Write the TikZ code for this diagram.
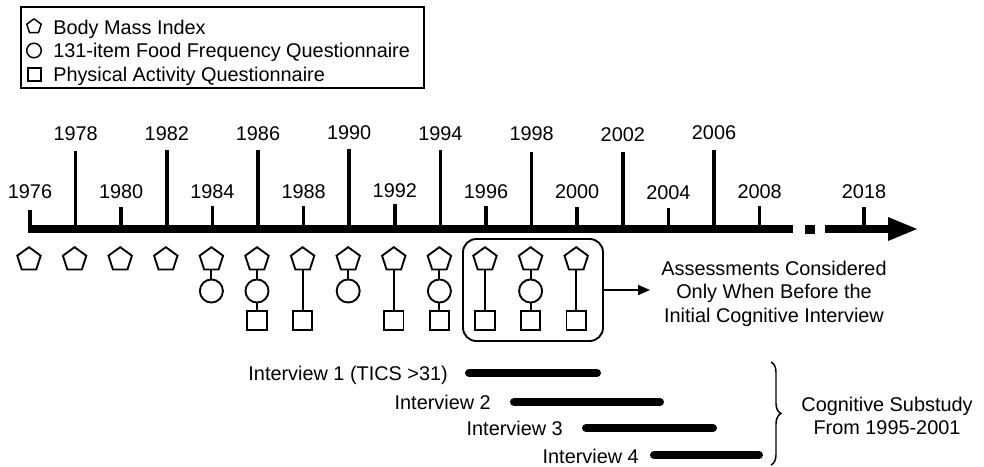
\documentclass[tikz,border=0pt]{standalone}
\usepackage{fontspec}
\setmainfont{Liberation Sans}
\usetikzlibrary{shapes.geometric,decorations.pathreplacing,arrows.meta}
\begin{document}
\begin{tikzpicture}[x=0.75pt,y=-0.75pt,
  txt/.style={font=\fontsize{14.9}{17.6}\selectfont, inner sep=0pt},
  pent/.style={draw, line width=1.4pt, regular polygon, regular polygon sides=5, inner sep=0pt, minimum size=18.5pt},
  circ/.style={draw, line width=1.4pt, circle, inner sep=0pt, minimum size=17.3pt},
  sq/.style={draw, line width=1.4pt, rectangle, inner sep=0pt, minimum size=14.6pt},
  lpent/.style={draw, line width=1.1pt, regular polygon, regular polygon sides=5, inner sep=0pt, minimum size=11.4pt},
  lcirc/.style={draw, line width=1.1pt, circle, inner sep=0pt, minimum size=10.9pt},
  lsq/.style={draw, line width=1.1pt, rectangle, inner sep=0pt, minimum size=10pt},
  link/.style={line width=1.4pt},
  tickline/.style={line width=2.6pt},
  axisline/.style={line width=6.5pt},
  barline/.style={line width=6pt, line cap=round},
]
\useasboundingbox (0,0) rectangle (984,467);

% legend
\node[draw, line width=1.5pt, minimum width=302.25pt, minimum height=60.75pt, inner sep=0pt] (legend) at (222.5,47.5) {};
\node[lpent] (lp) at (34,26.5) {};
\node[lcirc] (lc) at (34,50.5) {};
\node[lsq] (ls) at (34.5,74.5) {};
\node[txt, anchor=base west] (lt1) at (53,35) {Body Mass Index};
\node[txt, anchor=base west] (lt2) at (53,58) {131-item Food Frequency Questionnaire};
\node[txt, anchor=base west] (lt3) at (53,81.5) {Physical Activity Questionnaire};

% axis
\coordinate (a0) at (28,229);
\coordinate (a1) at (793,229);
\coordinate (a2) at (825,229);
\coordinate (a3) at (890,229);
\draw[axisline] (a0) -- (a1);
\fill (805,224.5) rectangle (815,233.5);
\draw[axisline] (a2) -- (a3);
\fill (888,217) -- (917,229) -- (888,241) -- cycle;

% ticks and years
\foreach \xx/\yr/\tp/\lb in {30/1976/210/198, 75.6/1978/151/140, 121.2/1980/207/198, 166.8/1982/150/140,
  212.4/1984/206/198, 258/1986/150/140, 303.6/1988/206/198, 349.2/1990/149/139, 394.8/1992/204/197,
  440.4/1994/150/140, 486/1996/206/198, 531.6/1998/152/140, 577.2/2000/207/198, 622.8/2002/152/141,
  668.4/2004/208/199, 714/2006/150/139, 759.6/2008/206/198, 864/2018/207/198}{
  \coordinate (t\yr) at (\xx,229);
  \coordinate (u\yr) at (\xx,\tp);
  \draw[tickline] (t\yr) -- (u\yr);
  \node[txt, anchor=base] (y\yr) at (\xx,\lb) {\yr};
}

% pentagons (Body Mass Index)
\foreach \xx/\yr in {29/1976, 74.6/1978, 120.2/1980, 165.8/1982, 211.4/1984, 257/1986, 302.6/1988,
  348.2/1990, 393.8/1992, 439.4/1994, 485/1996, 530.6/1998, 576.2/2000}{
  \node[pent] (p\yr) at (\xx,259.5) {};
}
% circles (FFQ)
\foreach \xx/\yr in {211.4/1984, 257/1986, 348.2/1990, 439.4/1994, 530.6/1998}{
  \node[circ] (c\yr) at (\xx,291) {};
  \draw[link] (p\yr.south) -- (c\yr.north);
}
% squares (PAQ)
\foreach \xx/\yr in {257/1986, 302.6/1988, 393.8/1992, 439.4/1994, 485/1996, 530.6/1998, 576.2/2000}{
  \node[sq] (s\yr) at (\xx,320.5) {};
}
\foreach \yr in {1986,1994,1998}{ \draw[link] (c\yr.south) -- (s\yr.north); }
\foreach \yr in {1988,1992,1996,2000}{ \draw[link] (p\yr.south) -- (s\yr.north); }

% group box and note
\node[draw, line width=1.4pt, rounded corners=10pt, minimum width=105pt, minimum height=76.5pt, inner sep=0pt] (grp) at (533,290) {};
\node[txt, align=center] (note) at (774,293.5) {Assessments Considered\\Only When Before the\\Initial Cognitive Interview};
\coordinate (ntip) at (650,290);
\draw[line width=1.4pt, -{Triangle[length=9pt,width=7.5pt]}] (grp.east) -- (ntip);

% interviews
\node[txt, anchor=base east] (i1) at (448,380) {Interview 1 (TICS >31)};
\node[txt, anchor=base east] (i2) at (491,409) {Interview 2};
\node[txt, anchor=base east] (i3) at (563,435) {Interview 3};
\node[txt, anchor=base east] (i4) at (639,463) {Interview 4};
\draw[barline] (469,373) -- (597,373);
\draw[barline] (514,402) -- (660,402);
\draw[barline] (586,428) -- (713,428);
\draw[barline] (654,455) -- (759,455);

% brace and substudy
\coordinate (b0) at (771,362);
\coordinate (b1) at (771,465);
\draw[line width=1.1pt, decorate, decoration={brace, amplitude=7.5pt}] (b0) -- (b1);
\node[txt, align=center] (sub) at (887,416) {Cognitive Substudy\\From 1995-2001};
\end{tikzpicture}
\end{document}
